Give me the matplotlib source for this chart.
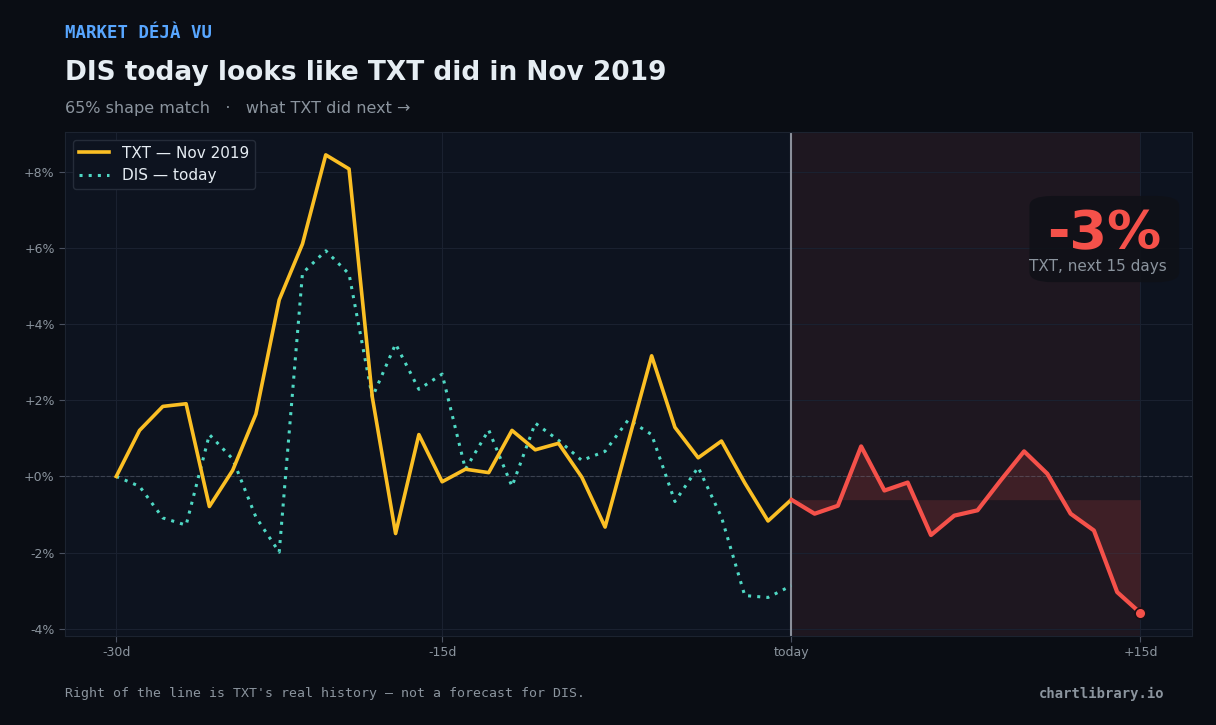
import numpy as np
import matplotlib.pyplot as plt
from matplotlib.patches import FancyBboxPatch

# days relative to today
past_days = np.arange(-29, 1)
future_days = np.arange(0, 16)

# TXT Nov 2019 path (% from start), past window
txt_past = [0.0, 1.21, 1.84, 1.91, -0.79, 0.16, 1.64, 4.64, 6.11, 8.45,
            8.08, 2.08, -1.50, 1.10, -0.14, 0.19, 0.10, 1.21, 0.70, 0.87,
            -0.02, -1.33, 0.92, 3.17, 1.29, 0.49, 0.93, -0.17, -1.17, -0.61]
# what TXT did next
txt_next = [-0.61, -0.98, -0.77, 0.79, -0.37, -0.16, -1.54, -1.03, -0.89, -0.10,
            0.66, 0.07, -0.98, -1.42, -3.04, -3.59]
# DIS today
dis_past = [0.0, -0.26, -1.09, -1.28, 1.10, 0.46, -1.07, -1.99, 5.34, 5.93,
            5.32, 2.08, 3.48, 2.29, 2.69, 0.19, 1.22, -0.26, 1.40, 0.95,
            0.42, 0.66, 1.49, 1.10, -0.66, 0.24, -1.07, -3.13, -3.18, -2.87]

tick_pos = [-29, -15, 0, 15]
tick_lbl = ["-30d", "-15d", "today", "+15d"]

bg = "#0a0d14"
axbg = "#0d131f"
grey = "#8b949e"
yellow = "#fbbf24"
teal = "#4fd8c4"
red = "#f5514a"

fig = plt.figure(figsize=(12.16, 7.25), dpi=100, facecolor=bg)
ax = fig.add_axes([0.0535, 0.1228, 0.9265, 0.6952], facecolor=axbg)

# future zone
ax.axvspan(0, 15, color="#2a1a22", alpha=0.6, lw=0, zorder=0)
ax.axhline(0, color="#3b4250", lw=0.8, ls="--", zorder=1)
ax.axvline(0, color="#8a8f9a", lw=1.5, zorder=2)

ax.fill_between(future_days, txt_next, txt_next[0], color=red, alpha=0.15, lw=0, zorder=2)
ax.plot(past_days, txt_past, color=yellow, lw=2.6, label="TXT — Nov 2019", zorder=4)
ax.plot(past_days, dis_past, color=teal, lw=2.2, ls=(0, (1, 2)), label="DIS — today", zorder=3)
ax.plot(future_days, txt_next, color=red, lw=3, zorder=4, solid_capstyle="round")
ax.scatter([future_days[-1]], [txt_next[-1]], s=60, color=red, edgecolor="#1a1015", lw=1.2, zorder=5)

ax.set_xticks(tick_pos)
ax.set_xticklabels(tick_lbl)
ax.set_yticks(np.arange(-4, 9, 2))
ax.set_yticklabels([f"{v:+d}%" for v in range(-4, 9, 2)])
ax.tick_params(colors="#4a5160", labelcolor=grey, labelsize=9, length=4)
ax.grid(True, color="#1a2130", lw=0.8)
ax.set_axisbelow(True)
for s in ax.spines.values():
    s.set_color("#1c2330")

leg = ax.legend(loc="upper left", fontsize=11, facecolor=axbg, edgecolor="#252c39",
                labelcolor="#e6edf3", framealpha=1, handlelength=2.0)

# result callout
chg = txt_next[-1] - txt_next[0]
box = FancyBboxPatch((0.856, 0.702), 0.133, 0.171, boxstyle="round,pad=0,rounding_size=0.02",
                     transform=ax.transAxes, facecolor="#0f1117", edgecolor="none", alpha=0.85, zorder=6)
ax.add_patch(box)
ax.text(0.922, 0.797, f"{chg:.0f}%", transform=ax.transAxes, ha="center", va="center",
        fontsize=39, fontweight="bold", color=red, zorder=7)
ax.text(0.917, 0.734, "TXT, next 15 days", transform=ax.transAxes, ha="center", va="center",
        fontsize=11, color=grey, zorder=7)

fig.text(0.0535, 0.955, "MARKET DÉJÀ VU", family="DejaVu Sans Mono", fontweight="bold",
         fontsize=12.5, color="#58a6ff", va="center")
fig.text(0.0535, 0.899, "DIS today looks like TXT did in Nov 2019", fontweight="bold",
         fontsize=19, color="#e6edf3", va="center")
fig.text(0.0535, 0.851, "65% shape match   ·   what TXT did next →", fontsize=11.5,
         color=grey, va="center")
fig.text(0.0535, 0.043, "Right of the line is TXT's real history — not a forecast for DIS.",
         family="DejaVu Sans Mono", fontsize=9.5, color=grey, va="center")
fig.text(0.958, 0.043, "chartlibrary.io", family="DejaVu Sans Mono", fontweight="bold",
         fontsize=10, color=grey, va="center", ha="right")

fig.savefig("out.png", dpi=100, facecolor=bg)
